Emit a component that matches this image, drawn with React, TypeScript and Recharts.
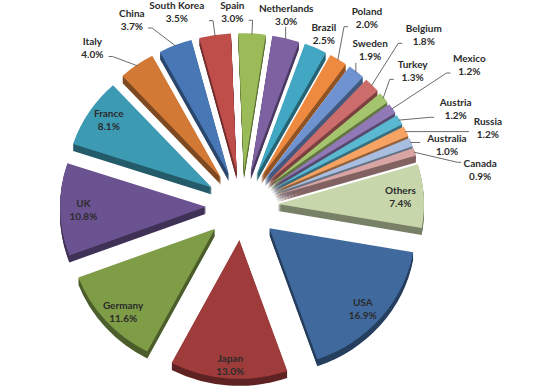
import { PieChart, Pie, Cell } from "recharts";

const countries = [
  "USA", "Japan", "Germany", "UK", "France", "Italy", "China", "South Korea", "Spain", "Netherlands",
  "Brazil", "Poland", "Sweden", "Belgium", "Turkey", "Mexico", "Austria", "Russia", "Australia", "Canada", "Others",
];
const shares = [16.9, 13.0, 11.6, 10.8, 8.1, 4.0, 3.7, 3.5, 3.0, 3.0, 2.5, 2.0, 1.9, 1.8, 1.3, 1.2, 1.2, 1.2, 1.0, 0.9, 7.4];
const colors = [
  "#40699d", "#9e3b3b", "#7f9c47", "#6b5391", "#3d9ab3", "#d27a35", "#4877b5", "#bf4e4b", "#9bbb59", "#7d61a1",
  "#41a7c2", "#ee8a3f", "#6f93d0", "#cd6d6b", "#a5c46e", "#9179b8", "#5bb8d1", "#f5a263", "#a7bee0", "#d9a5a4", "#c8d7ab",
];

// outside labels: [distance from pie centre, turn in degrees clockwise from the slice middle]
const outsideLabels: Record<string, [number, number]> = {
  Italy: [218, -8],
  China: [217, -9],
  "South Korea": [205, -10],
  Spain: [195, -6],
  Netherlands: [197, -1],
  Brazil: [191, 1.5],
  Poland: [226, 1.6],
  Sweden: [202, 0.4],
  Belgium: [250, 1],
  Turkey: [218, 0.3],
  Mexico: [268, 2.3],
  Austria: [235, 5.4],
  Russia: [258, 8],
  Australia: [214, 5],
  Canada: [241, 9.5],
};

const data = countries.map((name, i) => ({ name, value: shares[i] }));

const RAD = Math.PI / 180;
const TILT = 0.95;
const EXPLODE = 36;
const DEPTH = 7;
const FONT = "Lato, 'Open Sans', sans-serif";

function shade(hex: string, k: number) {
  const n = parseInt(hex.slice(1), 16);
  const r = Math.round(((n >> 16) & 255) * k);
  const g = Math.round(((n >> 8) & 255) * k);
  const b = Math.round((n & 255) * k);
  return `rgb(${r},${g},${b})`;
}

function slicePath(cx: number, cy: number, rx: number, ry: number, a0: number, a1: number) {
  const x0 = cx + rx * Math.cos(a0 * RAD);
  const y0 = cy - ry * Math.sin(a0 * RAD);
  const x1 = cx + rx * Math.cos(a1 * RAD);
  const y1 = cy - ry * Math.sin(a1 * RAD);
  const large = Math.abs(a1 - a0) > 180 ? 1 : 0;
  const sweep = a1 < a0 ? 1 : 0;
  return `M${cx},${cy} L${x0},${y0} A${rx},${ry} 0 ${large} ${sweep} ${x1},${y1} Z`;
}

function Slice(props: any) {
  const { cx, cy, outerRadius, startAngle, endAngle, fill } = props;
  const mid = ((startAngle + endAngle) / 2) * RAD;
  const ox = cx + EXPLODE * Math.cos(mid);
  const oy = cy - EXPLODE * TILT * Math.sin(mid);
  const d = slicePath(ox, oy, outerRadius, outerRadius * TILT, startAngle, endAngle);
  const side = shade(fill, 0.6);
  return (
    <g>
      {Array.from({ length: DEPTH }, (_, i) => (
        <path key={i} d={d} transform={`translate(0,${DEPTH - i})`} fill={side} />
      ))}
      <path d={d} fill={fill} />
    </g>
  );
}

function renderLabel(props: any) {
  const { cx, cy, outerRadius, startAngle, endAngle, name, value } = props;
  const midDeg = (startAngle + endAngle) / 2;
  const mid = midDeg * RAD;
  const pct = `${Number(value).toFixed(1)}%`;
  const textStyle = { fontFamily: FONT, fontSize: 10, fontWeight: 700, fill: "#2b2b2b" };

  const layout = outsideLabels[name];
  if (!layout) {
    const rr = EXPLODE + outerRadius * 0.84;
    const lx = cx + rr * Math.cos(mid);
    const ly = cy - rr * Math.sin(mid);
    return (
      <text x={lx} y={ly} textAnchor="middle" style={textStyle}>
        <tspan x={lx} dy={-2.5}>{name}</tspan>
        <tspan x={lx} dy={13}>{pct}</tspan>
      </text>
    );
  }

  const [dist, turn] = layout;
  const theta = (90 - midDeg + turn) * RAD;
  const lx = cx + dist * Math.sin(theta);
  const ly = cy - dist * Math.cos(theta);

  // leader target: outer middle of the exploded slice
  const tr = EXPLODE + outerRadius - 1;
  const tx = cx + tr * Math.cos(mid);
  const ty = cy - tr * TILT * Math.sin(mid);

  const halfW = (Math.max(name.length, pct.length) * 5.3) / 2 + 2;
  const left = lx - halfW;
  const right = lx + halfW;
  const top = ly - 13;
  const bottom = ly + 13;
  const gapX = tx < left ? left - tx : tx > right ? tx - right : 0;
  const gapY = ty < top ? top - ty : ty > bottom ? ty - bottom : 0;

  let leader: string | null = null;
  if (Math.hypot(gapX, gapY) > 8) {
    if (gapX === 0) {
      leader = `${tx},${bottom} ${tx},${ty}`;
    } else {
      const toLeft = tx < left;
      const sx = toLeft ? left - 1 : right + 1;
      const sy = Math.min(Math.max(ty, top + 6), bottom - 4);
      const kx = toLeft ? sx - 4 : sx + 4;
      leader = `${sx},${sy} ${kx},${sy} ${tx},${ty}`;
    }
  }

  return (
    <g>
      {leader && <polyline points={leader} fill="none" stroke="#5a5a5a" strokeWidth={0.9} />}
      <text x={lx} y={ly} textAnchor="middle" style={textStyle}>
        <tspan x={lx} dy={-2.5}>{name}</tspan>
        <tspan x={lx} dy={13}>{pct}</tspan>
      </text>
    </g>
  );
}

export default function App() {
  return (
    <div style={{ position: "absolute", left: 0, top: 0, width: 558, height: 390, background: "#fff" }}>
      <PieChart width={558} height={390} margin={{ top: 0, right: 0, bottom: 0, left: 0 }}>
        <Pie
          data={data}
          dataKey="value"
          nameKey="name"
          cx={242}
          cy={206}
          outerRadius={146}
          startAngle={-10}
          endAngle={-370}
          stroke="none"
          shape={Slice}
          activeShape={Slice}
          inactiveShape={Slice}
          label={renderLabel}
          labelLine={false}
          isAnimationActive={false}
        >
          {data.map((d, i) => (
            <Cell key={d.name} fill={colors[i]} />
          ))}
        </Pie>
      </PieChart>
    </div>
  );
}
